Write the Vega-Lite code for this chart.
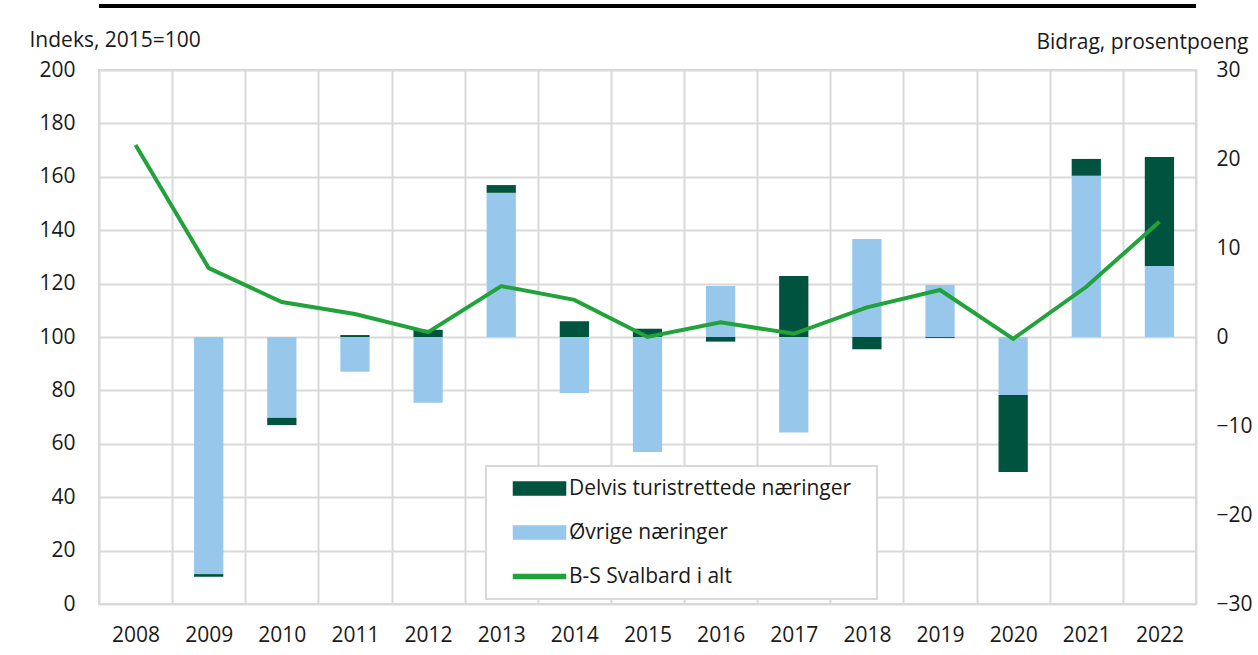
{
  "$schema": "https://vega.github.io/schema/vega-lite/v6.json",
  "width": 1097,
  "height": 534,
  "autosize": "none",
  "padding": {"left": 99, "top": 70, "right": 62, "bottom": 51},
  "background": "white",
  "config": {
    "view": {"stroke": "#d9d9d9", "strokeWidth": 2},
    "font": "Open Sans",
    "axis": {
      "labelFont": "Open Sans", "labelFontSize": 21, "labelColor": "#1a1a1a",
      "titleFont": "Open Sans", "titleFontSize": 21, "titleFontWeight": "normal", "titleColor": "#1a1a1a",
      "ticks": false, "domain": false, "gridColor": "#d9d9d9", "gridWidth": 2, "gridOpacity": 1
    },
    "legend": {
      "orient": "none", "legendX": 387, "legendY": 396, "title": null,
      "labelFont": "Open Sans", "labelFontSize": 21, "labelColor": "#1a1a1a", "labelLimit": 600,
      "symbolSize": 100, "labelOffset": 50, "rowPadding": 22, "padding": 12,
      "strokeColor": "#d9d9d9", "fillColor": "white"
    }
  },
  "datasets": {
    "bidrag": [
      {"year": 2009, "serie": "Øvrige næringer", "bidrag": -26.64},
      {"year": 2009, "serie": "Delvis turistrettede næringer", "bidrag": -0.3},
      {"year": 2010, "serie": "Øvrige næringer", "bidrag": -9.09},
      {"year": 2010, "serie": "Delvis turistrettede næringer", "bidrag": -0.81},
      {"year": 2011, "serie": "Øvrige næringer", "bidrag": -3.9},
      {"year": 2011, "serie": "Delvis turistrettede næringer", "bidrag": 0.22},
      {"year": 2012, "serie": "Øvrige næringer", "bidrag": -7.38},
      {"year": 2012, "serie": "Delvis turistrettede næringer", "bidrag": 0.81},
      {"year": 2013, "serie": "Øvrige næringer", "bidrag": 16.2},
      {"year": 2013, "serie": "Delvis turistrettede næringer", "bidrag": 0.87},
      {"year": 2014, "serie": "Øvrige næringer", "bidrag": -6.3},
      {"year": 2014, "serie": "Delvis turistrettede næringer", "bidrag": 1.77},
      {"year": 2015, "serie": "Øvrige næringer", "bidrag": -12.93},
      {"year": 2015, "serie": "Delvis turistrettede næringer", "bidrag": 0.93},
      {"year": 2016, "serie": "Øvrige næringer", "bidrag": 5.73},
      {"year": 2016, "serie": "Delvis turistrettede næringer", "bidrag": -0.52},
      {"year": 2017, "serie": "Øvrige næringer", "bidrag": -10.74},
      {"year": 2017, "serie": "Delvis turistrettede næringer", "bidrag": 6.84},
      {"year": 2018, "serie": "Øvrige næringer", "bidrag": 11.01},
      {"year": 2018, "serie": "Delvis turistrettede næringer", "bidrag": -1.38},
      {"year": 2019, "serie": "Øvrige næringer", "bidrag": 5.85},
      {"year": 2019, "serie": "Delvis turistrettede næringer", "bidrag": -0.1},
      {"year": 2020, "serie": "Øvrige næringer", "bidrag": -6.51},
      {"year": 2020, "serie": "Delvis turistrettede næringer", "bidrag": -8.67},
      {"year": 2021, "serie": "Øvrige næringer", "bidrag": 18.12},
      {"year": 2021, "serie": "Delvis turistrettede næringer", "bidrag": 1.89},
      {"year": 2022, "serie": "Øvrige næringer", "bidrag": 7.98},
      {"year": 2022, "serie": "Delvis turistrettede næringer", "bidrag": 12.24}
    ],
    "indeks": [
      {"year": 2008, "serie": "B-S Svalbard i alt", "indeks": 171.9},
      {"year": 2009, "serie": "B-S Svalbard i alt", "indeks": 125.8},
      {"year": 2010, "serie": "B-S Svalbard i alt", "indeks": 113.1},
      {"year": 2011, "serie": "B-S Svalbard i alt", "indeks": 108.6},
      {"year": 2012, "serie": "B-S Svalbard i alt", "indeks": 101.8},
      {"year": 2013, "serie": "B-S Svalbard i alt", "indeks": 119.1},
      {"year": 2014, "serie": "B-S Svalbard i alt", "indeks": 113.9},
      {"year": 2015, "serie": "B-S Svalbard i alt", "indeks": 100},
      {"year": 2016, "serie": "B-S Svalbard i alt", "indeks": 105.5},
      {"year": 2017, "serie": "B-S Svalbard i alt", "indeks": 101.2},
      {"year": 2018, "serie": "B-S Svalbard i alt", "indeks": 111.1},
      {"year": 2019, "serie": "B-S Svalbard i alt", "indeks": 117.6},
      {"year": 2020, "serie": "B-S Svalbard i alt", "indeks": 99.3},
      {"year": 2021, "serie": "B-S Svalbard i alt", "indeks": 118.8},
      {"year": 2022, "serie": "B-S Svalbard i alt", "indeks": 143.2}
    ]
  },
  "layer": [
    {
      "data": {"name": "bidrag"},
      "mark": {"type": "bar", "width": {"band": 0.4}},
      "encoding": {
        "x": {
          "field": "year", "type": "ordinal",
          "scale": {"paddingInner": 0, "paddingOuter": 0},
          "axis": {"title": null, "labelAngle": 0, "tickBand": "extent", "grid": true, "labelPadding": 20}
        },
        "y": {
          "field": "bidrag", "type": "quantitative", "stack": "zero",
          "scale": {"domain": [-30, 30], "nice": false, "zero": false},
          "axis": {
            "orient": "right", "values": [-30, -20, -10, 0, 10, 20, 30], "grid": false,
            "title": "Bidrag, prosentpoeng", "titleAngle": 0, "titleAlign": "right",
            "titleX": 52, "titleY": -28, "titleBaseline": "middle",
            "labelPadding": 20, "labelAlign": "left"
          }
        },
        "color": {
          "field": "serie", "type": "nominal",
          "scale": {
            "domain": ["Delvis turistrettede næringer", "Øvrige næringer", "B-S Svalbard i alt"],
            "range": ["#00543f", "#97c8ec", "#22a23a"]
          },
          "legend": {
            "encode": {
              "legend": {"update": {"strokeWidth": {"value": 2}}},
              "symbols": {
                "update": {
                  "shape": {"signal": "datum.value === 'B-S Svalbard i alt' ? 'M1,-0.4H11.4V0.4H1ZM-3.4,0L-3.4,0M70.6,0L70.6,0' : 'M1,-1.3H11.4V1.3H1ZM-3.4,0L-3.4,0M70.6,0L70.6,0'"},
                  "fill": {"scale": "color", "field": "value"},
                  "stroke": {"value": "transparent"},
                  "opacity": {"value": 1},
                  "fillOpacity": {"value": 1}
                }
              }
            }
          }
        },
        "order": {"field": "serie", "sort": "descending"}
      }
    },
    {
      "layer": [
        {
          "data": {"name": "indeks"},
          "mark": {"type": "line", "strokeWidth": 4},
          "encoding": {
            "x": {"field": "year", "type": "ordinal"},
            "y": {
              "field": "indeks", "type": "quantitative",
              "scale": {"domain": [0, 200], "nice": false},
              "axis": {
                "orient": "left", "values": [0, 20, 40, 60, 80, 100, 120, 140, 160, 180, 200], "grid": true,
                "title": "Indeks, 2015=100", "titleAngle": 0, "titleAlign": "left",
                "titleX": -70, "titleY": -30, "titleBaseline": "middle",
                "labelPadding": 24
              }
            },
            "color": {"field": "serie", "type": "nominal"}
          }
        },
        {
          "data": {"values": [{}]},
          "mark": {"type": "rule", "color": "black", "strokeWidth": 4},
          "encoding": {"y": {"datum": 224}}
        }
      ]
    }
  ],
  "resolve": {"scale": {"y": "independent"}}
}
